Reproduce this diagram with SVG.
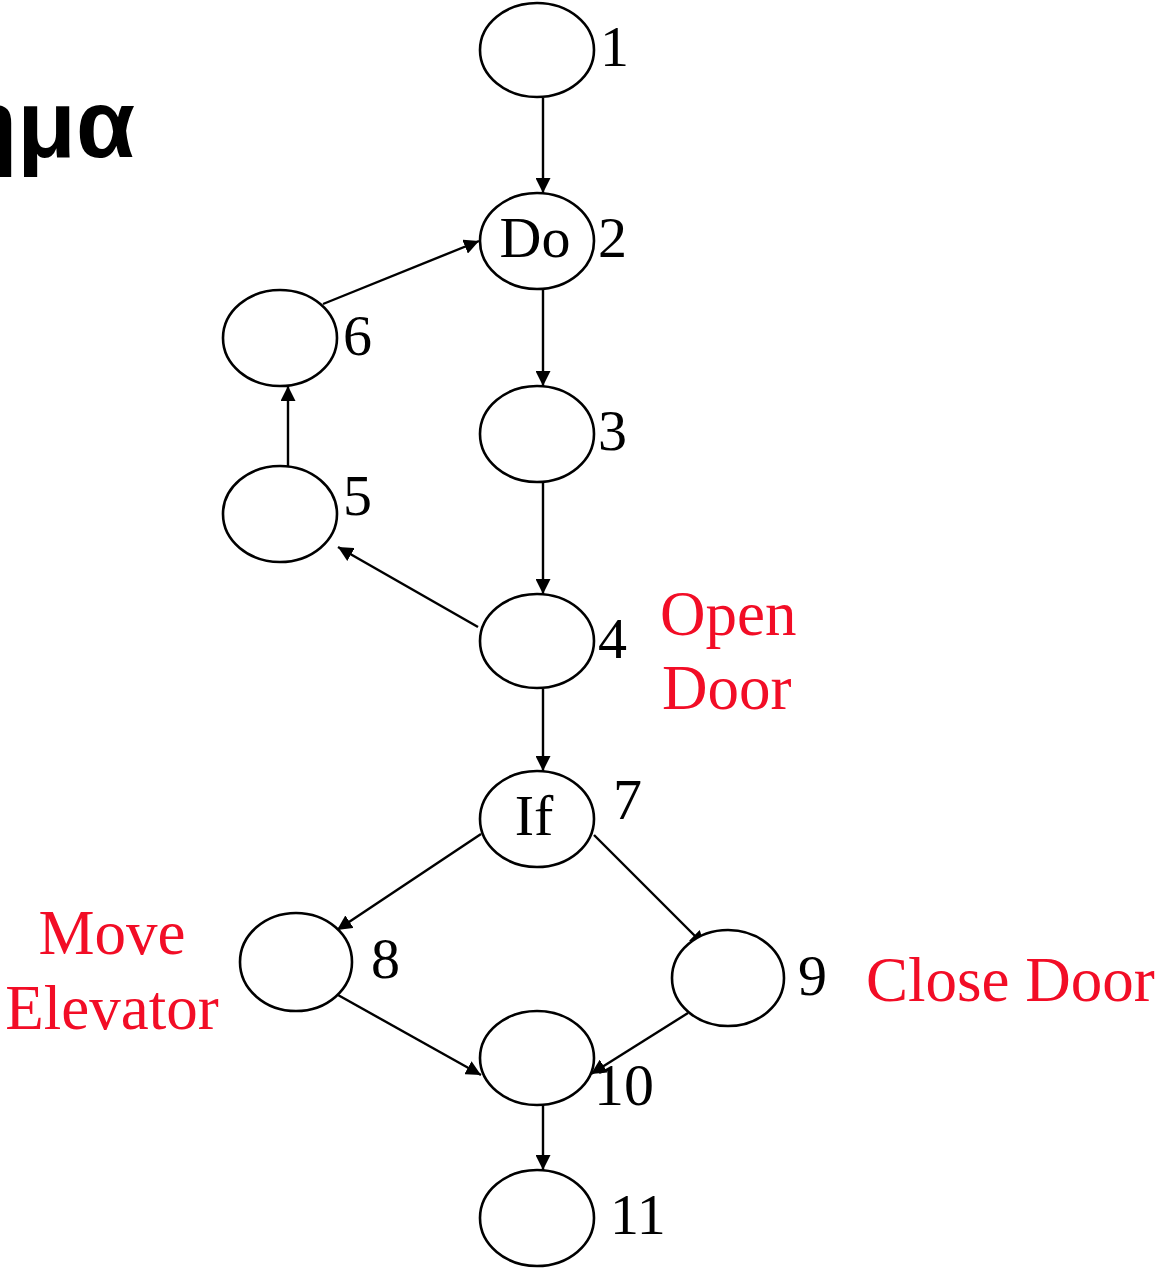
<svg xmlns="http://www.w3.org/2000/svg" width="1162" height="1270" viewBox="0 0 1162 1270">
  <style>
    .node { fill: #ffffff; stroke: #000000; stroke-width: 2.6; }
    .edge { stroke: #000000; stroke-width: 2.4; fill: none; marker-end: url(#arrow); }
    .num { font-family: "Liberation Serif", "Times New Roman", serif; font-size: 58px; fill: #000000; }
    .inner { font-family: "Liberation Serif", "Times New Roman", serif; font-size: 58px; fill: #000000; text-anchor: middle; }
    .note { font-family: "Liberation Serif", "Times New Roman", serif; font-size: 63px; fill: #F20D26; }
    .title { font-family: "Liberation Sans", Arial, sans-serif; font-size: 96px; font-weight: bold; fill: #000000; }
  </style>
  <defs>
    <marker id="arrow" viewBox="0 0 15 15" refX="15" refY="7.5" markerWidth="15" markerHeight="15" markerUnits="userSpaceOnUse" orient="auto">
      <path d="M0,0 L15,7.5 L0,15 z" fill="#000000"/>
    </marker>
  </defs>

  <rect width="1162" height="1270" fill="#ffffff"/>

  <!-- heading fragment at the left edge -->
  <text class="title" x="135" y="157" text-anchor="end">ημα</text>

  <!-- connectors -->
  <g id="edges">
    <line class="edge" x1="543" y1="98" x2="543" y2="193"/>
    <line class="edge" x1="543" y1="289" x2="543" y2="386"/>
    <line class="edge" x1="543" y1="482" x2="543" y2="594"/>
    <line class="edge" x1="478" y1="627" x2="338" y2="547"/>
    <line class="edge" x1="288" y1="466" x2="288" y2="386"/>
    <line class="edge" x1="323" y1="304" x2="479" y2="241"/>
    <line class="edge" x1="543" y1="689" x2="543" y2="771"/>
    <line class="edge" x1="481" y1="834" x2="337" y2="930"/>
    <line class="edge" x1="594" y1="835" x2="705" y2="946"/>
    <line class="edge" x1="338" y1="995" x2="481" y2="1075"/>
    <line class="edge" x1="688" y1="1013" x2="591" y2="1074"/>
    <line class="edge" x1="543" y1="1105" x2="543" y2="1170"/>
  </g>

  <!-- nodes -->
  <g id="n1">
    <ellipse class="node" cx="537" cy="50" rx="57" ry="47"/>
    <text class="num" x="600" y="66">1</text>
  </g>
  <g id="n2">
    <ellipse class="node" cx="537" cy="241" rx="57" ry="48"/>
    <text class="inner" x="535" y="257">Do</text>
    <text class="num" x="598" y="257">2</text>
  </g>
  <g id="n3">
    <ellipse class="node" cx="537" cy="434" rx="57" ry="48"/>
    <text class="num" x="598" y="450">3</text>
  </g>
  <g id="n4">
    <ellipse class="node" cx="537" cy="641" rx="57" ry="47"/>
    <text class="num" x="598" y="658">4</text>
  </g>
  <g id="n5">
    <ellipse class="node" cx="280" cy="514" rx="57" ry="48"/>
    <text class="num" x="343" y="515">5</text>
  </g>
  <g id="n6">
    <ellipse class="node" cx="280" cy="338" rx="57" ry="48"/>
    <text class="num" x="343" y="355">6</text>
  </g>
  <g id="n7">
    <ellipse class="node" cx="537" cy="819" rx="57" ry="48"/>
    <text class="inner" x="534" y="835">If</text>
    <text class="num" x="613" y="819">7</text>
  </g>
  <g id="n8">
    <ellipse class="node" cx="296" cy="962" rx="56" ry="49"/>
    <text class="num" x="371" y="978">8</text>
  </g>
  <g id="n9">
    <ellipse class="node" cx="728" cy="978" rx="56" ry="48"/>
    <text class="num" x="798" y="995">9</text>
  </g>
  <g id="n10">
    <ellipse class="node" cx="537" cy="1058" rx="57" ry="47"/>
    <text class="num" x="594" y="1105" style="font-size:60px">10</text>
  </g>
  <g id="n11">
    <ellipse class="node" cx="537" cy="1218" rx="57" ry="48"/>
    <text class="num" x="610" y="1234">11</text>
  </g>

  <!-- annotations -->
  <g id="notes">
    <text class="note" x="660" y="635">Open</text>
    <text class="note" x="662" y="709">Door</text>
    <text class="note" x="112" y="954" text-anchor="middle">Move</text>
    <text class="note" x="112" y="1029" text-anchor="middle">Elevator</text>
    <text class="note" x="866" y="1001">Close Door</text>
  </g>
</svg>
